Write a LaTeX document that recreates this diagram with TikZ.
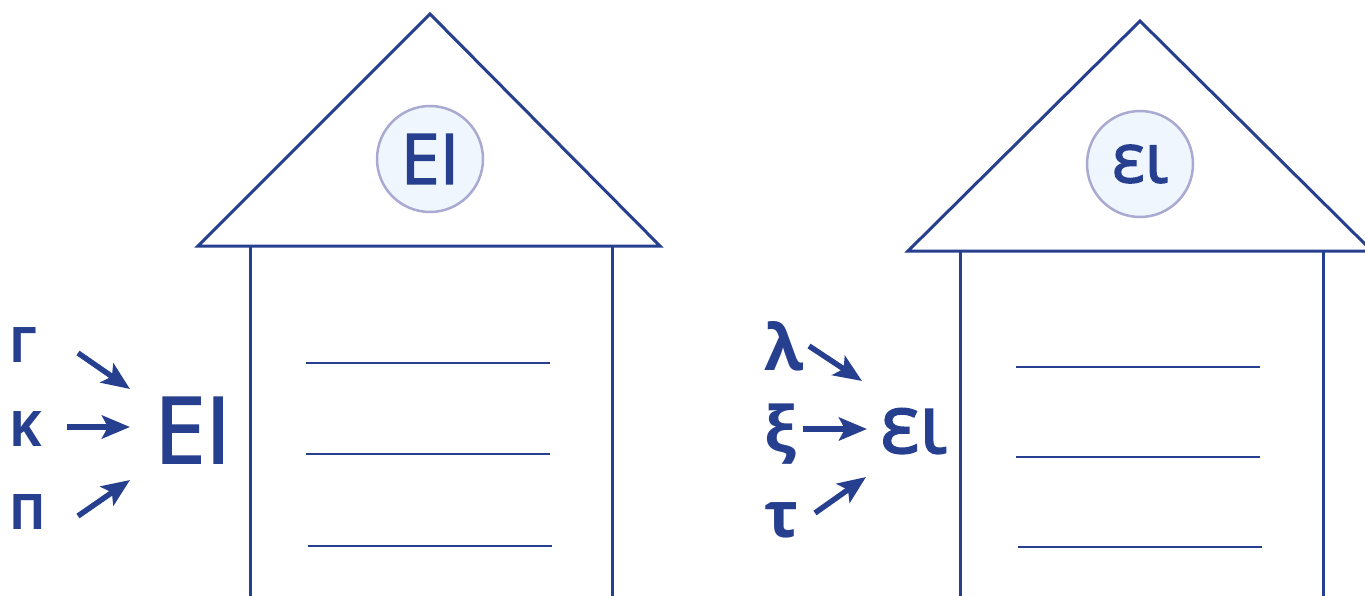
\documentclass[tikz,border=0pt]{standalone}
\usepackage{fontspec}
\setmainfont{Open Sans}
\newfontfamily\medfont[FakeBold=2]{Open Sans}
\usetikzlibrary{arrows.meta}
\definecolor{ink}{HTML}{263F8E}
\definecolor{ringc}{HTML}{A9A9D2}
\definecolor{ringfill}{HTML}{EFF6FE}
\begin{document}
\begin{tikzpicture}[x=1pt,y=-1pt,
  wall/.style={draw=ink,line width=3pt,line join=miter},
  shelf/.style={draw=ink,line width=2.7pt},
  ring/.style={circle,draw=ringc,fill=ringfill,line width=2.5pt,minimum size=106pt,inner sep=0pt,text=ink},
  arr/.style={draw=ink,line width=5.5pt,-{Stealth[length=28pt,width=23pt,inset=6pt]}},
  letter/.style={text=ink,inner sep=0pt,anchor=base west,font=\bfseries\fontsize{49}{49}\selectfont},
  lletter/.style={text=ink,inner sep=0pt,anchor=base west,font=\bfseries\fontsize{64}{64}\selectfont},
  big/.style={text=ink,inner sep=0pt,anchor=base west,font=\medfont\fontsize{92}{92}\selectfont},
  bigl/.style={text=ink,inner sep=0pt,anchor=base west,font=\medfont\fontsize{82}{82}\selectfont}
]
\useasboundingbox (0,0) rectangle (1365,596);
% left house
\draw[wall] (198,246) -- (430,14) -- (660,246) -- cycle;
\coordinate (lw1t) at (250,246); \coordinate (lw1b) at (250,600);
\coordinate (lw2t) at (612,246); \coordinate (lw2b) at (612,600);
\draw[wall] (lw1t) -- (lw1b);
\draw[wall] (lw2t) -- (lw2b);
\coordinate (ls1a) at (306,363); \coordinate (ls1b) at (550,363);
\coordinate (ls2a) at (306,454); \coordinate (ls2b) at (550,454);
\coordinate (ls3a) at (308,546); \coordinate (ls3b) at (552,546);
\draw[shelf] (ls1a) -- (ls1b);
\draw[shelf] (ls2a) -- (ls2b);
\draw[shelf] (ls3a) -- (ls3b);
\node[ring,font=\medfont\fontsize{70}{70}\selectfont] (lring) at (430,159) {ΕΙ};
% right house
\draw[wall] (908,251) -- (1140,21) -- (1372,251) -- cycle;
\coordinate (rw1t) at (960,251); \coordinate (rw1b) at (960,600);
\coordinate (rw2t) at (1323,251); \coordinate (rw2b) at (1323,600);
\draw[wall] (rw1t) -- (rw1b);
\draw[wall] (rw2t) -- (rw2b);
\coordinate (rs1a) at (1016,367); \coordinate (rs1b) at (1260,367);
\coordinate (rs2a) at (1016,457); \coordinate (rs2b) at (1260,457);
\coordinate (rs3a) at (1018,547); \coordinate (rs3b) at (1262,547);
\draw[shelf] (rs1a) -- (rs1b);
\draw[shelf] (rs2a) -- (rs2b);
\draw[shelf] (rs3a) -- (rs3b);
\node[ring,font=\medfont\fontsize{69}{69}\selectfont] (rring) at (1140,164) {ει};
% left letters
\node[letter] (G) at (9,362) {Γ};
\node[letter] (K) at (9,446) {Κ};
\node[letter] (P) at (9,529) {Π};
\node[big] (EI) at (154,463) {ΕΙ};
\coordinate (a1s) at (78,353); \coordinate (a1e) at (130,389);
\coordinate (a2s) at (67,427); \coordinate (a2e) at (130,427);
\coordinate (a3s) at (78,516); \coordinate (a3e) at (130,480);
\draw[arr] (a1s) -- (a1e);
\draw[arr] (a2s) -- (a2e);
\draw[arr] (a3s) -- (a3e);
% right letters
\node[lletter] (la) at (764,370) {λ};
\node[lletter] (xi) at (764,452) {ξ};
\node[lletter] (tau) at (764,537) {τ};
\node[bigl] (ei) at (880,453) {ει};
\coordinate (b1s) at (809,346); \coordinate (b1e) at (862,381);
\coordinate (b2s) at (803,429); \coordinate (b2e) at (867,429);
\coordinate (b3s) at (815,513); \coordinate (b3e) at (866,477);
\draw[arr] (b1s) -- (b1e);
\draw[arr] (b2s) -- (b2e);
\draw[arr] (b3s) -- (b3e);
\end{tikzpicture}
\end{document}
